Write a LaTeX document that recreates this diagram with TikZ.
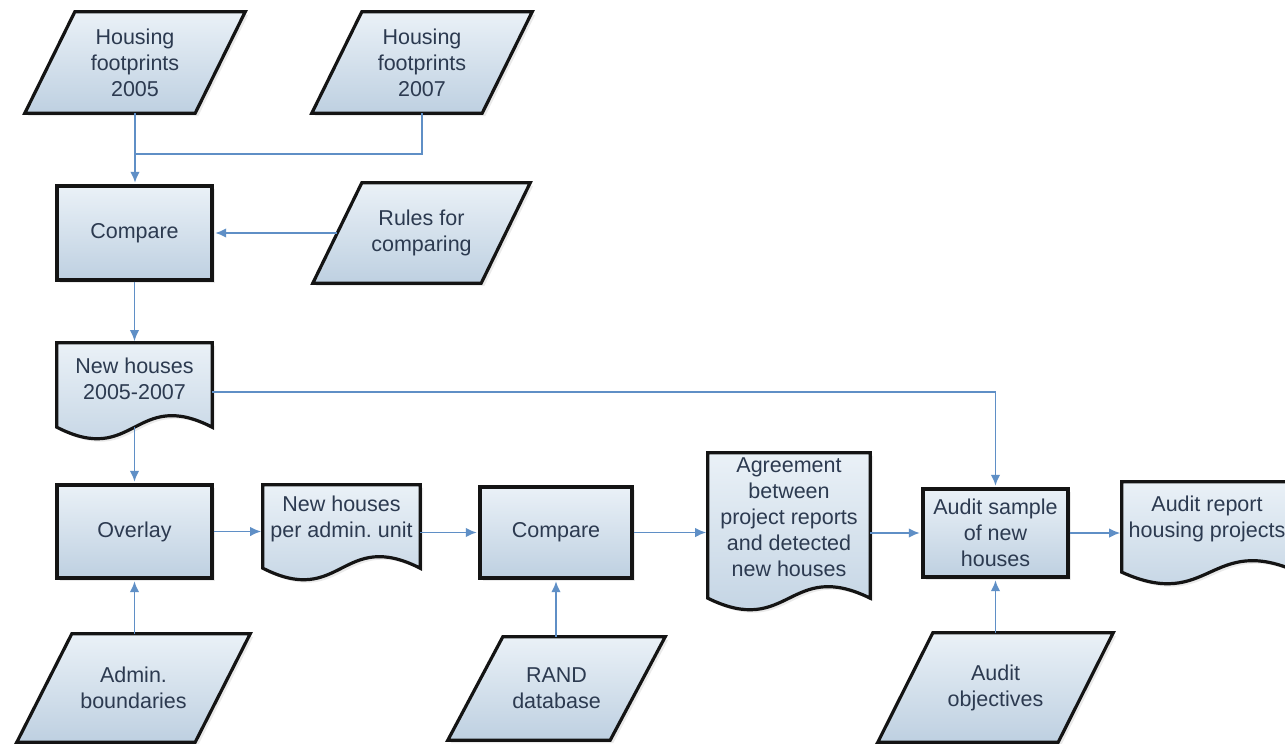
\documentclass[tikz,border=0pt]{standalone}
\usepackage{fontspec}
\setmainfont{Liberation Sans}
\usetikzlibrary{arrows.meta,calc,shadows,backgrounds}

\definecolor{txt}{RGB}{44,58,80}
\definecolor{fillA}{RGB}{234,241,247}
\definecolor{fillB}{RGB}{190,208,225}
\definecolor{lnk}{RGB}{95,143,198}

\newcommand\drawpara[2]{\path[shp] ($(#1.north west)+(#2,0)$) -- (#1.north east) -- ($(#1.south east)-(#2,0)$) -- (#1.south west) -- cycle;}
\newcommand\drawdoc[1]{\path[shp] (#1.south west) -- (#1.north west) -- (#1.north east) -- (#1.south east) .. controls ($(#1.south)+(0,-40)$) and ($(#1.south)+(0,40)$) .. (#1.south west) -- cycle;}

\begin{document}
\begin{tikzpicture}[x=1pt,y=-1pt,
  font=\fontsize{21.5}{26}\selectfont,
  every node/.style={text=txt},
  shp/.style={draw=black!92, line width=3.2pt, line join=miter, top color=fillA, bottom color=fillB,
    drop shadow={opacity=0.16, shadow xshift=3pt, shadow yshift=-3pt}},
  boxn/.style={shp, rectangle, inner sep=0pt, align=center},
  holder/.style={rectangle, inner sep=0pt, align=center},
  lbl/.style={align=center, text=txt},
  conn/.style={draw=lnk, line width=1.8pt, shorten >=1.6pt, -{Latex[length=11pt,width=9.5pt]}},
  plain/.style={draw=lnk, line width=1.8pt},
]
\useasboundingbox (0,0) rectangle (1285,744);

% rectangles (process boxes)
\node[boxn, minimum width=155, minimum height=94] (cmp1) at (134.5,233) {Compare};
\node[boxn, minimum width=155, minimum height=93] (overlay) at (134.5,531.5) {Overlay};
\node[boxn, minimum width=152, minimum height=91] (cmp2) at (556,532.5) {Compare};
\node[boxn, minimum width=145, minimum height=88] (audsam) at (995.5,533) {Audit sample\\of new\\houses};

% parallelograms (data)
\node[holder, minimum width=220, minimum height=101] (hf05) at (135,62.5) {Housing\\footprints\\2005};
\node[holder, minimum width=220, minimum height=101] (hf07) at (422,62.5) {Housing\\footprints\\2007};
\node[holder, minimum width=217, minimum height=100] (rules) at (421.5,233) {Rules for\\comparing};
\node[holder, minimum width=233, minimum height=108] (admin) at (133.5,688) {Admin.\\boundaries};
\node[holder, minimum width=217, minimum height=103] (rand) at (556.5,688.5) {RAND\\database};
\node[holder, minimum width=235, minimum height=109] (audobj) at (995.5,687.5) {Audit\\objectives};

% documents
\node[holder, minimum width=155, minimum height=84,
  label={[lbl, yshift=6pt]center:{New houses\\2005-2007}}] (newh) at (134.5,385) {};
\node[holder, minimum width=157, minimum height=83,
  label={[lbl, yshift=8pt]center:{New houses\\per admin.\ unit}}] (perunit) at (341.5,526.5) {};
\node[holder, minimum width=162, minimum height=145,
  label={[lbl, yshift=8pt]center:{Agreement\\between\\project reports\\and detected\\new houses}}] (agree) at (789,525.5) {};
\node[holder, minimum width=176, minimum height=90,
  label={[lbl, yshift=8pt, xshift=-3pt]center:{Audit report\\housing projects}}] (report) at (1210,527) {};

\begin{scope}[on background layer]
  \fill[white] (0,0) rectangle (1285,744);
  \drawpara{hf05}{50}
  \drawpara{hf07}{50}
  \drawpara{rules}{49}
  \drawpara{admin}{55}
  \drawpara{rand}{55}
  \drawpara{audobj}{55}
  \drawdoc{newh}
  \drawdoc{perunit}
  \drawdoc{agree}
  \drawdoc{report}
\end{scope}

% connectors
\coordinate (j1) at (135,154);
\draw[conn] (hf05.south) -- (hf05.south |- cmp1.north);
\draw[plain] (hf07.south) |- (j1);
\draw[conn] ($(rules.west)+(24.5,0)$) -- (cmp1.east);
\draw[conn] (cmp1.south) -- (newh.north);
\draw[conn] (newh.south) -- (overlay.north);
\draw[conn] ([yshift=-7pt]newh.east) -| (audsam.north);
\draw[conn] (admin.north -| overlay.south) -- (overlay.south);
\draw[conn] (overlay.east) -- (overlay.east -| perunit.west);
\draw[conn] (perunit.east |- cmp2.west) -- (cmp2.west);
\draw[conn] (cmp2.east) -- (cmp2.east -| agree.west);
\draw[conn] (agree.east |- audsam.west) -- (audsam.west);
\draw[conn] (audsam.east) -- (audsam.east -| report.west);
\draw[conn] (rand.north -| cmp2.south) -- (cmp2.south);
\draw[conn] (audobj.north -| audsam.south) -- (audsam.south);
\end{tikzpicture}
\end{document}
